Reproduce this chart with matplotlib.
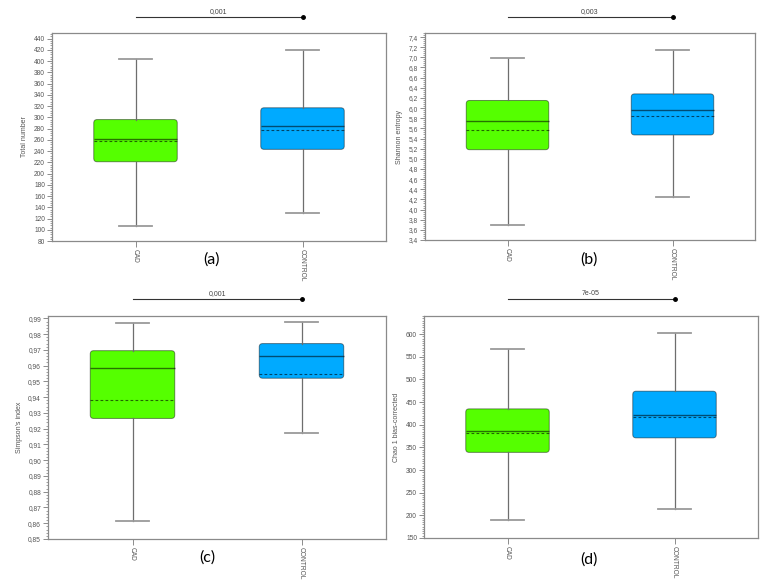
import numpy as np
import matplotlib.pyplot as plt
from matplotlib.patches import FancyBboxPatch
from matplotlib.ticker import MultipleLocator, FuncFormatter
import matplotlib.transforms as mtrans

# --- данные ---
groups = ["CAD", "CONTROL"]
panel_tags = ["(a)", "(b)", "(c)", "(d)"]
ylabels = ["Total number", "Shannon entropy", "Simpson's index", "Chao 1 bias-corrected"]
pvalues = ["0,001", "0,003", "0,001", "7e-05"]

# [CAD, CONTROL]
whis_lo = [[107, 129], [3.70, 4.25], [0.8615, 0.9175], [190, 213]]
q1 = [[221, 243], [5.18, 5.47], [0.9265, 0.952], [339, 371]]
median = [[262, 284], [5.74, 5.96], [0.9585, 0.966], [386, 422]]
mean = [[257, 277], [5.56, 5.84], [0.938, 0.9545], [381, 416]]
q3 = [[296, 317], [6.15, 6.28], [0.9695, 0.974], [435, 474]]
whis_hi = [[403, 420], [6.99, 7.14], [0.987, 0.9875], [568, 603]]

ylims = [(80, 450), (3.4, 7.48), (0.85, 0.9915), (150, 640)]
major_step = [20, 0.2, 0.01, 50]
minor_step = [4, 0.04, 0.002, 5]
decimals = [0, 1, 2, 0]

colors = ["#55ff00", "#00aaff"]

# положение осей в пикселях: left, right, top, bottom
W, H = 768, 586
boxes_px = [(52, 386, 33, 241), (425, 755, 33, 240),
            (48, 386, 316, 539), (424, 758, 316, 538)]
tag_px = [(211, 260), (589, 260), (207, 558), (589, 560)]

plt.rcParams["font.family"] = ["Liberation Sans", "DejaVu Sans"]
fig = plt.figure(figsize=(W / 100, H / 100), dpi=100)
fig.patch.set_facecolor("white")

grey = "#7a7a7a"

for i in range(4):
    l, r, t, b = boxes_px[i]
    ax = fig.add_axes([l / W, 1 - b / H, (r - l) / W, (b - t) / H])
    ax.set_xlim(0.5, 2.5)
    ax.set_ylim(*ylims[i])

    stats = []
    for j in range(2):
        stats.append(dict(label=groups[j], whislo=whis_lo[i][j], q1=q1[i][j],
                          med=median[i][j], q3=q3[i][j], whishi=whis_hi[i][j],
                          mean=mean[i][j], fliers=[]))
    bp = ax.bxp(stats, positions=[1, 2], widths=0.5, patch_artist=True,
                showmeans=True, meanline=True,
                whiskerprops=dict(color="#6e6e6e", lw=0.9),
                capprops=dict(color="#9a9a9a", lw=1.3),
                medianprops=dict(color="black", alpha=0.55, lw=1.0),
                meanprops=dict(color="black", alpha=0.6, lw=0.8, ls=(0, (2.5, 2))),
                capwidths=0.2)

    # скруглённые коробки вместо прямоугольных
    p0 = ax.transData.transform((0, 0))
    px = ax.transData.transform((1, 1)) - p0
    aspect = px[0] / px[1]
    for j, patch in enumerate(bp["boxes"]):
        patch.set_visible(False)
        fb = FancyBboxPatch((j + 1 - 0.25, q1[i][j]), 0.5, q3[i][j] - q1[i][j],
                            boxstyle="round,pad=0,rounding_size=0.02",
                            mutation_aspect=aspect, facecolor=colors[j],
                            edgecolor="black", lw=0.7, zorder=1.5)
        fb.set_edgecolor((0, 0, 0, 0.45))
        ax.add_patch(fb)

    for s in ax.spines.values():
        s.set_color("#8a8a8a")
        s.set_linewidth(0.9)

    ax.yaxis.set_major_locator(MultipleLocator(major_step[i]))
    ax.yaxis.set_minor_locator(MultipleLocator(minor_step[i]))
    d = decimals[i]
    ax.yaxis.set_major_formatter(FuncFormatter(lambda v, pos, d=d: f"{v:.{d}f}".replace(".", ",")))
    ax.tick_params(axis="y", which="major", length=3.5, width=0.6, color=grey,
                   labelsize=4.8, labelcolor="#555555", pad=1.5)
    ax.tick_params(axis="y", which="minor", length=1.8, width=0.5, color=grey)
    ax.tick_params(axis="x", length=4, width=0.6, color=grey, labelsize=4.8,
                   labelcolor="#555555", pad=2)
    ax.set_xticks([1, 2])
    ax.set_xticklabels(groups, rotation=270)
    ax.set_ylabel(ylabels[i], fontsize=5, color="#555555", labelpad=4)

    # линия значимости
    tr = mtrans.blended_transform_factory(ax.transData, ax.transAxes)
    ax.plot([1, 2], [1.075, 1.075], color="#333333", lw=0.8, transform=tr, clip_on=False)
    ax.plot([2], [1.075], "o", color="black", ms=2.5, transform=tr, clip_on=False)
    ax.text(1.5, 1.085, pvalues[i], fontsize=5, color="#444444", ha="center",
            va="bottom", transform=tr)

    fig.text(tag_px[i][0] / W, 1 - tag_px[i][1] / H, panel_tags[i], fontsize=11.5,
             family=["Lato", "DejaVu Sans"], ha="center", va="center")

fig.savefig("out.png", dpi=100, facecolor="white")
